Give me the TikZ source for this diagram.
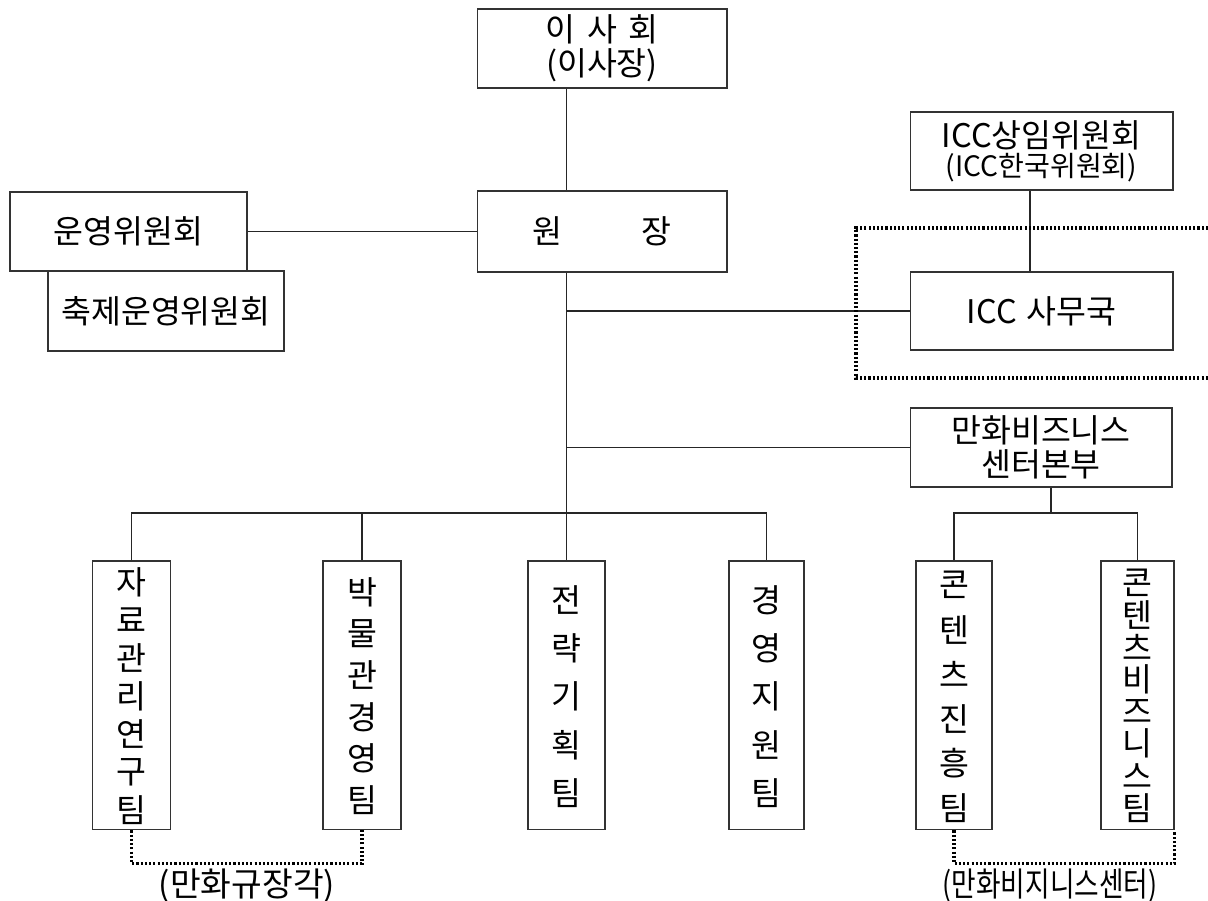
\documentclass[tikz,border=0pt]{standalone}
\usepackage{fontspec}
\setmainfont{Noto Sans CJK KR}
\usepackage{graphicx}
\usetikzlibrary{positioning}
\tikzset{
  box/.style={draw=black!80, line width=0.6pt, inner sep=0pt, align=center, font=\fontsize{18.5}{19.5}\selectfont},
  tall/.style={box, minimum height=5.38cm},
  conn/.style={draw=black!85, line width=0.6pt},
  dots/.style={line width=2pt, dash pattern=on 1.2pt off 1.2pt},
  vch/.style={inner sep=0pt, font=\fontsize{18.5}{19.5}\selectfont},
  lab/.style={inner sep=0pt, font=\fontsize{19}{20}\selectfont}
}
% vertical label: box, first y, step, chars
\newcommand{\vlabel}[4]{%
  \foreach \c [count=\i from 0] in {#4}{%
    \pgfmathsetmacro\yy{#2+\i*#3}
    \node[vch] (#1-\i) at (#1.north |- 0,\yy) {\c};
  }}

\begin{document}
\begin{tikzpicture}[x=0.02cm, y=-0.02cm]
  \useasboundingbox (0,0) rectangle (1208,901);

  % top part
  \node[box, minimum width=5cm, minimum height=1.58cm] (board) at (602,48.5)
    {이\hspace{0.35em}사\hspace{0.35em}회\\(이사장)};
  \node[box, minimum width=5cm, minimum height=1.62cm] (head) at (602,231.5)
    {원\hspace{2.45em}장};
  \node[box, minimum width=4.74cm, minimum height=1.58cm] (ops) at (128.5,231.5) {운영위원회};
  \node[box, fill=white, minimum width=4.72cm, minimum height=1.6cm] (fest) at (166,311) {축제운영위원회};

  % ICC
  \node[box, minimum width=5.26cm, minimum height=1.56cm] (iccsang) at (1041.5,151)
    {ICC상임위원회\\[-3pt]{\fontsize{16}{17}\selectfont(ICC한국위원회)}};
  \node[box, minimum width=5.26cm, minimum height=1.56cm] (iccsec) at (1041.5,311)
    {ICC\hspace{0.3em}사무국};
  \node[box, minimum width=5.24cm, minimum height=1.58cm] (biz) at (1041,447.5)
    {만화비즈니스\\센터본부};

  % teams
  \node[tall, minimum width=1.56cm] (docs) at (131.5,695.5) {};
  \node[tall, minimum width=1.56cm] (mus) at (362,695.5) {};
  \node[tall, minimum width=1.54cm] (strat) at (566.5,695.5) {};
  \node[tall, minimum width=1.5cm] (mgmt) at (766.5,695.5) {};
  \node[tall, minimum width=1.52cm] (cont) at (954,695.5) {};
  \node[tall, minimum width=1.46cm] (cbiz) at (1137.5,695.5) {};

  \vlabel{docs}{582}{38}{자,료,관,리,연,구,팀}
  \vlabel{mus}{592}{41.6}{박,물,관,경,영,팀}
  \vlabel{strat}{600}{48.25}{전,략,기,획,팀}
  \vlabel{mgmt}{600}{48.25}{경,영,지,원,팀}
  \vlabel{cont}{585}{44.6}{콘,텐,츠,진,흥,팀}
  \vlabel{cbiz}{583}{32.1}{콘,텐,츠,비,즈,니,스,팀}

  % connectors
  \draw[conn] (board.south -| strat.north) -- (head.north -| strat.north);
  \draw[conn] (ops.east) -- (head.west);
  \draw[conn] (head.south -| strat.north) -- (strat.north);
  \draw[conn] (iccsang.south -| 1030,0) -- (iccsec.north -| 1030,0);
  \draw[conn] (iccsec.west -| strat.north) -- (iccsec.west);
  \draw[conn] (biz.west -| strat.north) -- (biz.west);

  \coordinate (bus) at (0,513);
  \draw[conn] (docs.north) -- (docs.north |- bus) -- (mgmt.north |- bus) -- (mgmt.north);
  \draw[conn] (mus.north |- bus) -- (mus.north);
  \draw[conn] (biz.south -| 1051,0) -- (bus -| 1051,0);
  \draw[conn] (cont.north) -- (cont.north |- bus) -- (cbiz.north |- bus) -- (cbiz.north);

  % dotted groups
  \draw[dots] (1208,228) -- (856,228) -- (856,378) -- (1208,378);
  \draw[dots] (docs.south) -- ++(0,33) -| (mus.south);
  \draw[dots] (cont.south) -- ++(0,33) -| (cbiz.south east);

  \node[lab] (kyu) at (247,886) {(만화규장각)};
  \node[lab] (bizc) at (1050,886) {\scalebox{0.8}[1]{(만화비지니스센터)}};
\end{tikzpicture}
\end{document}
